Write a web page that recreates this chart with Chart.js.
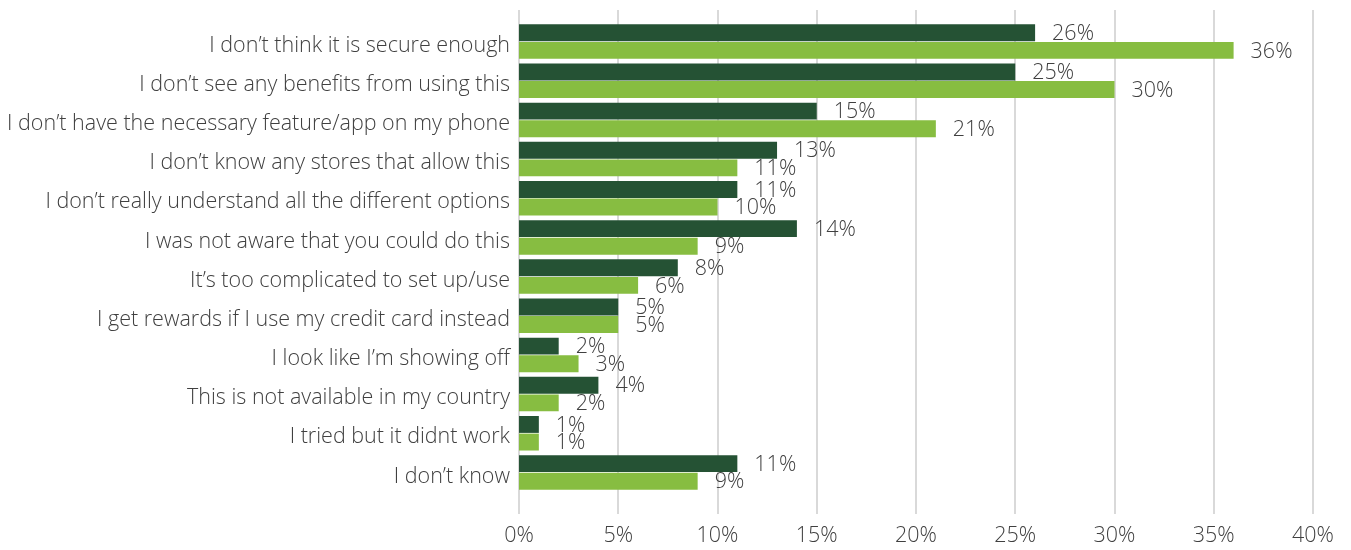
<!DOCTYPE html>
<html>
<head>
<meta charset="utf-8">
<script src="https://cdn.jsdelivr.net/npm/chart.js@4/dist/chart.umd.min.js"></script>
<style>
  html, body { margin: 0; padding: 0; background: #ffffff; }
  #wrap { width: 1351px; height: 550px; }
</style>
</head>
<body>
<div id="wrap"><canvas id="c" width="1351" height="550"></canvas></div>
<script>
const categories = [
  'I don’t think it is secure enough',
  'I don’t see any benefits from using this',
  'I don’t have the necessary feature/app on my phone',
  'I don’t know any stores that allow this',
  'I don’t really understand all the different options',
  'I was not aware that you could do this',
  'It’s too complicated to set up/use',
  'I get rewards if I use my credit card instead',
  'I look like I’m showing off',
  'This is not available in my country',
  'I tried but it didnt work',
  'I don’t know'
];
const seriesDark = [26, 25, 15, 13, 11, 14, 8, 5, 2, 4, 1, 11];
const seriesLight = [36, 30, 21, 11, 10, 9, 6, 5, 3, 2, 1, 9];
const tickValues = [0, 5, 10, 15, 20, 25, 30, 35, 40];

const FONT = '"Open Sans", "Noto Sans", sans-serif';
const TEXT = '#404040';
const SIZE = 21.5;

// vertical gridlines that run a little past the bar area
const gridPlugin = {
  id: 'tallGrid',
  beforeDatasetsDraw(chart) {
    const ctx = chart.ctx;
    const x = chart.scales.x;
    ctx.save();
    ctx.strokeStyle = '#d9d9d9';
    ctx.lineWidth = 2;
    tickValues.forEach(v => {
      const px = Math.round(x.getPixelForValue(v));
      ctx.beginPath();
      ctx.moveTo(px, 10);
      ctx.lineTo(px, 514);
      ctx.stroke();
    });
    ctx.restore();
  }
};

// percentage labels to the right of each bar
const valueLabels = {
  id: 'valueLabels',
  afterDatasetsDraw(chart) {
    const ctx = chart.ctx;
    ctx.save();
    ctx.font = '300 ' + SIZE + 'px ' + FONT;
    ctx.fillStyle = TEXT;
    ctx.textAlign = 'left';
    ctx.textBaseline = 'middle';
    chart.data.datasets.forEach((ds, i) => {
      const meta = chart.getDatasetMeta(i);
      meta.data.forEach((bar, j) => {
        ctx.fillText(ds.data[j] + '%', bar.x + 17, bar.y + 1);
      });
    });
    ctx.restore();
  }
};

new Chart(document.getElementById('c'), {
  type: 'bar',
  data: {
    labels: categories,
    datasets: [
      { label: 'A', data: seriesDark, backgroundColor: '#255234', borderWidth: 0,
        categoryPercentage: 0.9, barPercentage: 0.96 },
      { label: 'B', data: seriesLight, backgroundColor: '#87bd41', borderWidth: 0,
        categoryPercentage: 0.9, barPercentage: 0.96 }
    ]
  },
  options: {
    indexAxis: 'y',
    responsive: false,
    animation: false,
    layout: { padding: { left: 0, right: 38, top: 22, bottom: 0 } },
    plugins: { legend: { display: false }, tooltip: { enabled: false } },
    scales: {
      x: {
        type: 'linear',
        min: 0, max: 40,
        afterBuildTicks(scale) { scale.ticks = tickValues.map(v => ({ value: v })); },
        afterFit(scale) {
          scale.height = 58;
          scale.paddingLeft = 0;
          scale.paddingRight = 0;
        },
        grid: { display: false },
        border: { display: false },
        ticks: {
          padding: 23,
          color: TEXT,
          font: { family: FONT, size: SIZE, weight: '300' },
          callback: v => v + '%'
        }
      },
      y: {
        afterFit(scale) { scale.width = 519; },
        grid: { display: false },
        border: { display: false },
        ticks: {
          padding: 1,
          labelOffset: 4,
          autoSkip: false,
          color: TEXT,
          font: { family: FONT, size: SIZE, weight: '300' }
        }
      }
    }
  },
  plugins: [gridPlugin, valueLabels]
});
</script>
</body>
</html>
